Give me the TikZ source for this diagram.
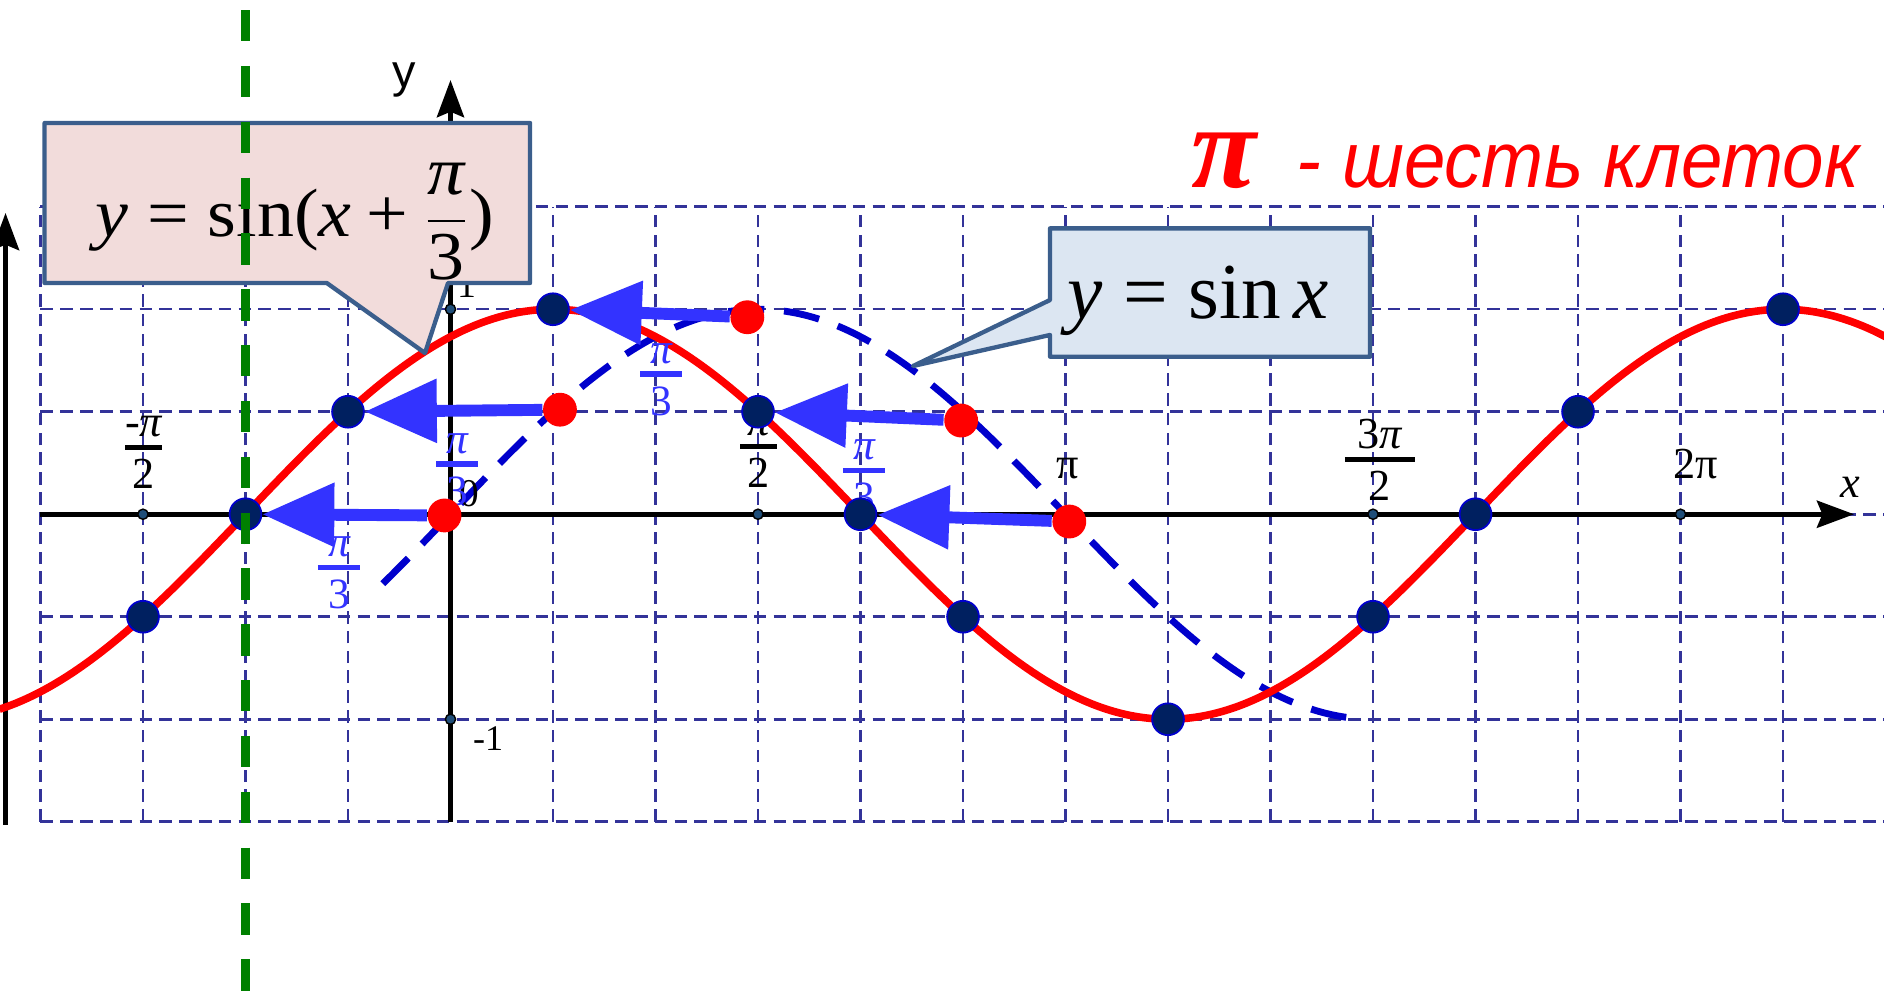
\documentclass[tikz,border=0pt]{standalone}
\usepackage{amsmath}
\usepackage{fontspec}
\setmainfont{Liberation Serif}
\newfontfamily\arialfont{Liberation Sans}
\usetikzlibrary{arrows.meta}
\pgfdeclarelayer{back}
\pgfdeclarelayer{mid}
\pgfdeclarelayer{front}
\pgfsetlayers{back,mid,main,front}
\definecolor{gridblue}{HTML}{333399}
\definecolor{curveblue}{HTML}{0000CC}
\definecolor{arrowblue}{HTML}{3333FF}
\definecolor{navydot}{HTML}{002060}
\definecolor{tickfill}{HTML}{1F4E79}
\definecolor{pinkfill}{HTML}{F2DCDB}
\definecolor{bluefill}{HTML}{DCE6F2}
\definecolor{callborder}{HTML}{3B5E8C}
\definecolor{darkgreen}{HTML}{008000}
\tikzset{
  gridline/.style={gridblue, line width=0.7pt, dash pattern=on 3.5pt off 2pt},
  axisline/.style={black, line width=1.4pt, -{Stealth[length=10.3pt,width=7.5pt,inset=1.5pt]}},
  redcurve/.style={red, line width=2.1pt},
  bluedash/.style={curveblue, line width=1.9pt, dash pattern=on 10pt off 5.5pt},
  greenline/.style={darkgreen, line width=2.3pt, dash pattern=on 8.7pt off 6.8pt},
  shiftarrow/.style={arrowblue, line width=3.3pt, -{Triangle[length=20pt,width=17pt]}},
  navypt/.style={circle, fill=navydot, draw=curveblue, line width=0.5pt, minimum size=0.31cm, inner sep=0pt},
  redpt/.style={circle, fill=red, minimum size=0.33cm, inner sep=0pt},
  tickpt/.style={circle, fill=tickfill, draw=black, line width=0.4pt, minimum size=0.1cm, inner sep=0pt},
  ticklbl/.style={font=\fontsize{12.3}{14}\selectfont, text=black, inner sep=0pt},
  ticklblbar/.style={black, line width=1.5pt},
  blbl/.style={font=\fontsize{12}{14}\selectfont, text=arrowblue, inner sep=0pt},
  blblbar/.style={arrowblue, line width=1.4pt},
  calloutpink/.style={fill=pinkfill, draw=callborder, line width=1.2pt, line join=round},
  calloutblue/.style={fill=bluefill, draw=callborder, line width=1.2pt, line join=round},
  formula/.style={anchor=base, inner sep=0pt, text=black},
}
\newcommand\fraclab[7]{%
  \node[#7, anchor=base] (#1num) at (#2,{#3+0.105}) {#4};
  \node[#7, anchor=base] (#1den) at (#2,{#3-0.40}) {#5};
  \draw[#7bar] ({#2-#6/2},#3) -- ({#2+#6/2},#3);
}
\begin{document}
\begin{tikzpicture}[x=1cm,y=1cm]
\useasboundingbox (-4.395,-4.652) rectangle (13.985,5.017);
\begin{pgfonlayer}{back}
  \foreach \i in {-4,...,13} \draw[gridline] (\i,-3) -- (\i,3);
  \foreach \j in {-3,...,3} \draw[gridline] (-4,\j) -- (13.985,\j);
  \coordinate (xs) at (-4,0);
  \coordinate (xe) at (13.693,0);
  \coordinate (ys) at (0,-3);
  \coordinate (ye) at (0,4.236);
  \coordinate (ls) at (-4.341,-3.03);
  \coordinate (le) at (-4.341,2.939);
  \draw[axisline] (xs) -- (xe);
  \draw[axisline] (ys) -- (ye);
  \draw[axisline] (ls) -- (le);
  \draw[bluedash] plot[domain=-0.66:8.92, samples=120, smooth] (\x,{2*sin(30*\x)});
  \draw[redcurve] plot[domain=-4.4:14, samples=220, smooth] (\x,{2*sin(30*(\x+2))});
  \node[tickpt] (t1) at (-3,0) {};
  \node[tickpt] (t2) at (3,0) {};
  \node[tickpt] (t3) at (9,0) {};
  \node[tickpt] (t4) at (12,0) {};
  \node[tickpt] (t5) at (0,2) {};
  \node[tickpt] (t6) at (0,-2) {};
  \fraclab{mhalf}{-2.995}{0.651}{-{\itshape π}}{2}{0.36}{ticklbl}
  \fraclab{phalf}{3.005}{0.659}{{\itshape π}}{2}{0.36}{ticklbl}
  \fraclab{thalf}{9.068}{0.532}{3{\itshape π}}{2}{0.683}{ticklbl}
  \node[ticklbl, anchor=base] (lpi) at (6.024,0.353) {π};
  \node[ticklbl, anchor=base] (l2pi) at (12.151,0.353) {2π};
  \node[ticklbl, anchor=base, font=\fontsize{10.9}{12}\selectfont] (l0) at (0.18,0.073) {0};
  \node[ticklbl, anchor=base, font=\fontsize{10.5}{12}\selectfont] (l1) at (0.161,2.11) {1};
  \node[ticklbl, anchor=base, font=\fontsize{10}{12}\selectfont] (lm1) at (0.366,-2.300) {-1};
  \node[anchor=base, inner sep=0pt, font=\arialfont\fontsize{13}{15}\selectfont] (ly) at (-0.454,4.168) {y};
  \node[ticklbl, anchor=base] (lx) at (13.653,0.168) {\itshape x};
\end{pgfonlayer}
\node[navypt] (n1) at (-3,-1) {};
\node[navypt] (n2) at (-2,0) {};
\node[navypt] (n3) at (-1,1) {};
\node[navypt] (n4) at (1,2) {};
\node[navypt] (n5) at (3,1) {};
\node[navypt] (n6) at (4,0) {};
\node[navypt] (n7) at (5,-1) {};
\node[navypt] (n8) at (7,-2) {};
\node[navypt] (n9) at (9,-1) {};
\node[navypt] (n10) at (10,0) {};
\node[navypt] (n11) at (11,1) {};
\node[navypt] (n12) at (13,2) {};
\node[redpt] (r1) at (-0.058,-0.012) {};
\node[redpt] (r2) at (1.068,1.020) {};
\node[redpt] (r3) at (2.896,1.922) {};
\node[redpt] (r4) at (4.982,0.914) {};
\node[redpt] (r5) at (6.037,-0.071) {};
\begin{pgfonlayer}{mid}
  \draw[shiftarrow] (r1) -- (n2);
  \draw[shiftarrow] (r2) -- (n3);
  \draw[shiftarrow] (r3) -- (n4);
  \draw[shiftarrow] (r4) -- (n5);
  \draw[shiftarrow] (r5) -- (n6);
  \fraclab{ba}{-1.088}{-0.52}{{\itshape π}}{3}{0.41}{blbl}
  \fraclab{bb}{0.068}{0.49}{{\itshape π}}{3}{0.41}{blbl}
  \fraclab{bc}{2.054}{1.368}{{\itshape π}}{3}{0.41}{blbl}
  \fraclab{bd}{4.034}{0.431}{{\itshape π}}{3}{0.41}{blbl}
\end{pgfonlayer}
\begin{pgfonlayer}{front}
  \draw[calloutpink] (-3.960,3.817) -- (0.776,3.817) -- (0.776,2.256) -- (-0.024,2.256) -- (-0.249,1.573) -- (-1.207,2.256) -- (-3.960,2.256) -- cycle;
  \node[formula, font=\fontsize{19}{22}\selectfont] (f1) at (-1.517,2.707) {\scalebox{1.08}[1]{$\text{\itshape y}\mathrel{\text{=}}\text{sin(}\text{\itshape x}\mathbin{\text{+}}\dfrac{\text{\itshape π}}{\text{3}}\text{)}$}};
  \draw[calloutblue] (5.849,2.789) -- (8.971,2.789) -- (8.971,1.537) -- (5.849,1.537) -- (5.849,1.749) -- (4.512,1.446) -- (5.849,2.090) -- cycle;
  \node[formula, font=\fontsize{22}{26}\selectfont] (f2) at (7.292,1.911) {$\text{\itshape y}\mathrel{\text{=}}\text{sin}\,\text{\itshape x}$};
  \coordinate (gtop) at (-2,4.919);
  \coordinate (gbot) at (-2,-4.652);
  \draw[greenline] (gtop) -- (gbot);
  \node[anchor=base, text=red, inner sep=0pt, font=\fontsize{33}{36}\selectfont\bfseries\itshape] (tpi) at (7.542,3.192) {π};
  \node[anchor=base west, text=red, inner sep=0pt, font=\arialfont\itshape\fontsize{22}{26}\selectfont] (ttxt) at (8.249,3.192) {\scalebox{0.94}[1]{- шесть клеток}};
\end{pgfonlayer}
\end{tikzpicture}
\end{document}
